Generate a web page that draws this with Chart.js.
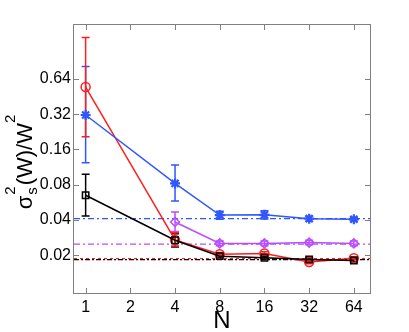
<!doctype html>
<html>
<head>
<title>sigma_s^2(W)/W^2 vs N</title>
<script src="https://cdn.jsdelivr.net/npm/chart.js"></script>
<style>
  body { margin: 0; background: #fff; }
  #wrap { width: 409px; height: 332px; }
</style>
</head>
<body>
<div id="wrap"><canvas id="grafico"></canvas></div>
<script>
// tick values (both axes are log2)
var xTicks = [1, 2, 4, 8, 16, 32, 64];
var yTicks = [0.02, 0.04, 0.08, 0.16, 0.32, 0.64];

// N values
var nAll = [1, 4, 8, 16, 32, 64];
var nMagenta = [4, 8, 16, 32, 64];

// red circles
var redMean = [0.546, 0.0270, 0.0204, 0.0207, 0.0175, 0.0188];
var redLow  = [0.205, 0.0240, 0.0197, 0.0200, 0.0169, 0.0182];
var redHigh = [1.45,  0.0310, 0.0211, 0.0214, 0.0181, 0.0194];

// blue stars
var blueMean = [0.315, 0.082, 0.0440, 0.0442, 0.0410, 0.0405];
var blueLow  = [0.123, 0.058, 0.0405, 0.0408, 0.0390, 0.0390];
var blueHigh = [0.816, 0.118, 0.0475, 0.0478, 0.0430, 0.0420];

// magenta diamonds
var magMean = [0.0384, 0.0252, 0.0252, 0.0256, 0.0252];
var magLow  = [0.0318, 0.0241, 0.0241, 0.0245, 0.0241];
var magHigh = [0.0467, 0.0264, 0.0264, 0.0268, 0.0264];

// black squares
var blackMean = [0.065, 0.0268, 0.0196, 0.0190, 0.0184, 0.0180];
var blackLow  = [0.0431, 0.0235, 0.0191, 0.0185, 0.0179, 0.0175];
var blackHigh = [0.098, 0.0305, 0.0201, 0.0195, 0.0189, 0.0185];

// horizontal reference levels
var refValues = [0.0411, 0.0248, 0.0187, 0.0183];

var RED = '#ff1e1e', BLUE = '#3056ff', MAG = '#b94cff', BLACK = '#000000';
var refStyles = [
    { color: BLUE, dash: [6, 3, 2, 3] },
    { color: MAG, dash: [6, 3, 2, 3] },
    { color: RED, dash: [3, 3] },
    { color: BLACK, dash: [5, 2, 2, 2] }
];

function pts(xs, ys) {
    return xs.map(function (x, i) { return { x: x, y: ys[i] }; });
}

function serie(label, xs, ys, color, style) {
    return {
        label: label,
        data: pts(xs, ys),
        borderColor: color,
        backgroundColor: 'rgba(0,0,0,0)',
        borderWidth: 1.5,
        pointStyle: style,
        pointRadius: style == 'star' ? 5 : 4.5,
        pointBorderWidth: style == 'star' ? 2.2 : 1.5,
        pointBorderColor: color,
        pointBackgroundColor: 'rgba(0,0,0,0)',
        tension: 0,
        clip: false
    };
}

var errorSets = [
    { xs: nAll, lo: blueLow, hi: blueHigh, color: BLUE },
    { xs: nMagenta, lo: magLow, hi: magHigh, color: MAG },
    { xs: nAll, lo: blackLow, hi: blackHigh, color: BLACK },
    { xs: nAll, lo: redLow, hi: redHigh, color: RED }
];

var extras = {
    id: 'extras',
    beforeDatasetsDraw: function (chart) {
        var ctx = chart.ctx, a = chart.chartArea;
        var sx = chart.scales.x, sy = chart.scales.y;
        // reference lines
        refValues.forEach(function (v, i) {
            var py = sy.getPixelForValue(v);
            ctx.save();
            ctx.strokeStyle = refStyles[i].color;
            ctx.lineWidth = 1.2;
            ctx.setLineDash(refStyles[i].dash);
            ctx.beginPath();
            ctx.moveTo(a.left, py);
            ctx.lineTo(a.right, py);
            ctx.stroke();
            ctx.restore();
        });
        // error bars
        errorSets.forEach(function (e) {
            ctx.save();
            ctx.strokeStyle = e.color;
            ctx.lineWidth = 1.5;
            e.xs.forEach(function (x, i) {
                var px = sx.getPixelForValue(x);
                var y1 = sy.getPixelForValue(e.lo[i]);
                var y2 = sy.getPixelForValue(e.hi[i]);
                ctx.beginPath();
                ctx.moveTo(px, y1); ctx.lineTo(px, y2);
                ctx.moveTo(px - 4, y1); ctx.lineTo(px + 4, y1);
                ctx.moveTo(px - 4, y2); ctx.lineTo(px + 4, y2);
                ctx.stroke();
            });
            ctx.restore();
        });
    },
    afterDraw: function (chart) {
        var ctx = chart.ctx, a = chart.chartArea;
        var sx = chart.scales.x, sy = chart.scales.y;
        ctx.save();
        ctx.strokeStyle = '#808080';
        ctx.lineWidth = 1;
        ctx.strokeRect(a.left - 0.5, a.top - 0.5, a.right - a.left + 1, a.bottom - a.top + 1);
        ctx.beginPath();
        xTicks.forEach(function (v) {
            var px = Math.round(sx.getPixelForValue(v)) + 0.5;
            ctx.moveTo(px, a.bottom); ctx.lineTo(px, a.bottom - 5);
            ctx.moveTo(px, a.top); ctx.lineTo(px, a.top + 5);
        });
        yTicks.forEach(function (v) {
            var py = Math.round(sy.getPixelForValue(v)) + 0.5;
            ctx.moveTo(a.left, py); ctx.lineTo(a.left + 5, py);
            ctx.moveTo(a.right, py); ctx.lineTo(a.right - 5, py);
        });
        ctx.stroke();
        ctx.restore();

        // y axis title: sigma_s^2(W)/W^2
        var big = '22px "Liberation Sans", Arial, sans-serif';
        var small = '15px "Liberation Sans", Arial, sans-serif';
        ctx.save();
        ctx.fillStyle = '#000';
        ctx.textBaseline = 'alphabetic';
        ctx.textAlign = 'left';
        ctx.translate(32, (a.top + a.bottom) / 2 + 3);
        ctx.rotate(-Math.PI / 2);
        ctx.font = big; var wSig = ctx.measureText('σ').width; var wMid = ctx.measureText('(W)/W').width;
        ctx.font = small; var wSup = Math.max(ctx.measureText('2').width, ctx.measureText('s').width);
        var total = wSig + wSup + wMid + wSup + 2;
        var x = -total / 2;
        ctx.font = big; ctx.fillText('σ', x, 0); x += wSig + 1;
        ctx.font = small; ctx.fillText('2', x, -17); ctx.fillText('s', x, 5); x += wSup + 1;
        ctx.font = big; ctx.fillText('(W)/W', x, 0); x += wMid;
        ctx.font = small; ctx.fillText('2', x, -17);
        ctx.restore();
    }
};

var tickFont = { family: '"Liberation Sans", Arial, sans-serif', size: 16 };

var grafico = new Chart(document.getElementById('grafico').getContext('2d'), {
    type: 'line',
    data: {
        datasets: [
            serie('blue', nAll, blueMean, BLUE, 'star'),
            serie('magenta', nMagenta, magMean, MAG, 'rectRot'),
            serie('black', nAll, blackMean, BLACK, 'rect'),
            serie('red', nAll, redMean, RED, 'circle')
        ]
    },
    options: {
        responsive: true,
        maintainAspectRatio: false,
        animation: false,
        layout: { padding: { top: 25, right: 39, left: 0, bottom: 0 } },
        plugins: { legend: { display: false }, tooltip: { enabled: false } },
        scales: {
            x: {
                type: 'logarithmic',
                min: 0.835,
                max: 82.2,
                grid: { display: false, drawTicks: false },
                border: { display: false },
                afterBuildTicks: function (s) { s.ticks = xTicks.map(function (v) { return { value: v }; }); },
                afterFit: function (s) { s.height = 39; },
                ticks: {
                    autoSkip: false, maxRotation: 0, padding: 5, color: '#000', font: tickFont,
                    callback: function (v) { return String(v); }
                },
                title: {
                    display: true, text: 'N', color: '#000',
                    font: { family: '"Liberation Sans", Arial, sans-serif', size: 24, lineHeight: 1 },
                    padding: { top: 0, bottom: -1 }
                }
            },
            y: {
                type: 'logarithmic',
                min: 0.0095,
                max: 1.85,
                grid: { display: false, drawTicks: false },
                border: { display: false },
                afterBuildTicks: function (s) { s.ticks = yTicks.map(function (v) { return { value: v }; }); },
                afterFit: function (s) { s.width = 74; },
                ticks: {
                    autoSkip: false, padding: 3, color: '#000', font: tickFont,
                    callback: function (v) { return String(v); }
                }
            }
        }
    },
    plugins: [extras]
});
</script>
</body>
</html>
